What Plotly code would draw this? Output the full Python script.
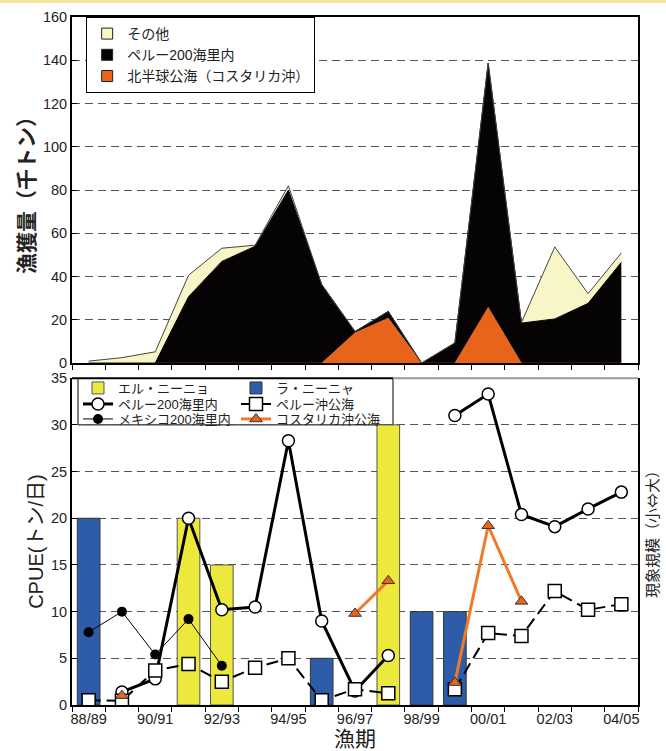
import plotly.graph_objects as go

# ---------------- data ----------------
seasons = ["88/89", "89/90", "90/91", "91/92", "92/93", "93/94", "94/95", "95/96",
           "96/97", "97/98", "98/99", "99/00", "00/01", "01/02", "02/03", "03/04", "04/05"]

# catch (thousand tonnes), stacked: north hemisphere high seas (bottom), Peru 200nm, other (top)
catch_north = [0, 0, 0, 0, 0, 0, 0, 0, 14, 20.8, 0, 0, 25.8, 0, 0, 0, 0]
catch_peru = [0, 0, 0, 30.7, 47, 54, 80, 36.3, 0.6, 3.1, 0, 9.3, 112.9, 18.5, 20.4, 27.6, 46.6]
catch_other = [0.9, 2.5, 5.2, 9.9, 6.1, 0.5, 2, 0, 0, 0, 0, 0, 0, 0.3, 33.3, 4.5, 4.3]

# phenomenon scale bars
elnino = [None, None, None, 20, 15, None, None, None, None, 30, None, None, None, None, None, None, None]
lanina = [20, None, None, None, None, None, None, 5, None, None, 10, 10, None, None, None, None, None]

# CPUE (t/day)
cpue_peru200 = [None, 1.4, 2.8, 20.0, 10.2, 10.5, 28.3, 9.0, 1.5, 5.3, None,
                31.0, 33.3, 20.4, 19.1, 21.0, 22.8]
cpue_peru_hs = [0.5, 0.45, 3.7, 4.4, 2.5, 4.0, 5.0, 0.5, 1.7, 1.25, None,
                1.7, 7.7, 7.4, 12.2, 10.2, 10.8]
cpue_mexico = [7.8, 10.0, 5.4, 9.2, 4.2, None, None, None, None, None, None,
               None, None, None, None, None, None]
cpue_costa = [None, 1.0, None, None, None, None, None, None, 9.8, 13.3, None,
              2.4, 19.2, 11.1, None, None, None]

top_title = "漁獲量（千トン）"
bot_title = "CPUE(トン/日)"
right_title = "現象規模（小⇔大）"
x_title = "漁期"

names_top = ["その他", "ペルー200海里内", "北半球公海（コスタリカ沖）"]
names_bot = ["エル・ニーニョ", "ラ・ニーニャ", "ペルー200海里内", "ペルー沖公海",
             "メキシコ200海里内", "コスタリカ沖公海"]

# ---------------- styles ----------------
FONT = "Liberation Sans, Arial, Noto Sans CJK JP, sans-serif"
CJK = "Noto Sans CJK JP, sans-serif"
C_CREAM = "#F8F6C6"
C_BLACK = "#050303"
C_ORANGE = "#E8641B"
C_YELLOW = "#ECE83C"
C_BLUE = "#2F5CA9"
C_LORANGE = "#F07A2A"

fig = go.Figure()

# legend-only symbols for the top chart
for nm, col in zip(names_top, [C_CREAM, C_BLACK, C_ORANGE]):
    fig.add_trace(go.Scatter(x=[None], y=[None], mode="markers", name=nm,
                             marker=dict(symbol="square", size=11, color=col,
                                         line=dict(color="#222", width=1)),
                             legend="legend", xaxis="x", yaxis="y"))

# stacked areas
fig.add_trace(go.Scatter(x=seasons, y=catch_north, stackgroup="c", mode="lines",
                         line=dict(color=C_ORANGE, width=0.5), fillcolor=C_ORANGE,
                         showlegend=False, xaxis="x", yaxis="y"))
fig.add_trace(go.Scatter(x=seasons, y=catch_peru, stackgroup="c", mode="lines",
                         line=dict(color=C_BLACK, width=1), fillcolor=C_BLACK,
                         showlegend=False, xaxis="x", yaxis="y"))
fig.add_trace(go.Scatter(x=seasons, y=catch_other, stackgroup="c", mode="lines",
                         line=dict(color="#444", width=1), fillcolor=C_CREAM,
                         showlegend=False, xaxis="x", yaxis="y"))

# bottom chart bars  (legend rows: legend2 = row 1, legend3 = row 2, legend4 = row 3)
fig.add_trace(go.Bar(x=seasons, y=elnino, name=names_bot[0], width=0.68,
                     marker=dict(color=C_YELLOW, line=dict(color="#555", width=1)),
                     legend="legend2", xaxis="x2", yaxis="y2"))
fig.add_trace(go.Bar(x=seasons, y=lanina, name=names_bot[1], width=0.68,
                     marker=dict(color=C_BLUE, line=dict(color="#333", width=1)),
                     legend="legend2", xaxis="x2", yaxis="y2"))

# CPUE lines
fig.add_trace(go.Scatter(x=seasons, y=cpue_peru200, name=names_bot[2], mode="lines+markers",
                         line=dict(color="black", width=3),
                         marker=dict(symbol="circle", size=12, color="white",
                                     line=dict(color="black", width=1.5)),
                         legend="legend3", xaxis="x2", yaxis="y2"))
fig.add_trace(go.Scatter(x=seasons, y=cpue_peru_hs, name=names_bot[3], mode="lines+markers",
                         line=dict(color="black", width=2, dash="12px,6px"),
                         marker=dict(symbol="square", size=13, color="white",
                                     line=dict(color="black", width=1.5)),
                         legend="legend3", xaxis="x2", yaxis="y2"))
fig.add_trace(go.Scatter(x=seasons, y=cpue_mexico, name=names_bot[4], mode="lines+markers",
                         line=dict(color="black", width=1),
                         marker=dict(symbol="circle", size=10, color="black"),
                         legend="legend4", xaxis="x2", yaxis="y2"))
fig.add_trace(go.Scatter(x=seasons, y=cpue_costa, name=names_bot[5], mode="lines+markers",
                         line=dict(color=C_LORANGE, width=3),
                         marker=dict(symbol="triangle-up", size=11, color=C_ORANGE,
                                     line=dict(color="#333", width=1)),
                         legend="legend4", xaxis="x2", yaxis="y2"))

tick_font = dict(family=FONT, size=14.5, color="#222")
grid_kw = dict(showgrid=True, gridcolor="#555", griddash="8px,5px", gridwidth=1)

row_legend = dict(orientation="h", x=0.0106, xanchor="left", yanchor="top",
                  entrywidth=113, entrywidthmode="pixels", bgcolor="rgba(0,0,0,0)",
                  borderwidth=0, itemwidth=30, traceorder="normal",
                  font=dict(family=FONT, size=13, color="#222"))

LEG_RIGHT = (393 - 72) / 566  # right edge of the bottom legend box (paper fraction)

fig.update_layout(
    width=666, height=751,
    margin=dict(l=72, r=28, t=17, b=46, autoexpand=False),
    paper_bgcolor="white", plot_bgcolor="white",
    font=dict(family=FONT, color="#222"),
    barmode="overlay",
    xaxis=dict(domain=[0, 1], type="category", categoryorder="array", categoryarray=seasons,
               range=[-0.5, 16.5], tickson="boundaries", ticks="outside", ticklen=5,
               tickcolor="black", showticklabels=False, showgrid=False,
               showline=True, linecolor="black", linewidth=2, mirror=True, anchor="y"),
    yaxis=dict(domain=[0.497, 1], range=[0, 160], dtick=20, ticks="inside", ticklen=5,
               tickcolor="black", tickfont=tick_font, showline=True, linecolor="black",
               linewidth=2, mirror=True, zeroline=False, anchor="x",
               title=dict(text=top_title,
                          font=dict(family=CJK, size=21, color="#222", weight="bold"),
                          standoff=3),
               **grid_kw),
    xaxis2=dict(domain=[0, 1], type="category", categoryorder="array", categoryarray=seasons,
                range=[-0.5, 16.5], tickson="boundaries", ticks="outside", ticklen=5,
                tickcolor="black", tickmode="array", tickvals=seasons,
                ticktext=[s if i % 2 == 0 else "" for i, s in enumerate(seasons)],
                tickangle=0, tickfont=tick_font, showgrid=False, showline=True,
                linecolor="black", linewidth=2, mirror=False, anchor="y2",
                title=dict(text=x_title, font=dict(family=FONT, size=21, color="#222"),
                           standoff=0)),
    yaxis2=dict(domain=[0, 0.475], range=[0, 35], dtick=5, ticks="inside", ticklen=5,
                tickcolor="black", tickfont=tick_font, showline=True, linecolor="black",
                linewidth=2, mirror=True, zeroline=False, anchor="x2",
                title=dict(text=bot_title, font=dict(family=FONT, size=20, color="#222"),
                           standoff=2),
                **grid_kw),
    legend=dict(x=0.025, y=1, xanchor="left", yanchor="top", bgcolor="white",
                bordercolor="black", borderwidth=1, itemwidth=30, tracegroupgap=0,
                traceorder="normal",
                font=dict(family=FONT, size=14, color="#222")),
    legend2=dict(y=(705 - 373) / 688, **row_legend),
    legend3=dict(y=(705 - 389) / 688, **row_legend),
    legend4=dict(y=(705 - 404) / 688, **row_legend),
    annotations=[dict(text=right_title, xref="paper", yref="paper", x=1,
                      y=(705 - 531) / 688, xanchor="center", yanchor="middle", xshift=13,
                      textangle=-90, showarrow=False,
                      font=dict(family=CJK, size=15, color="#222"))],
    shapes=[
        # bottom legend box
        dict(type="rect", xref="paper", yref="y2", x0=(78 - 72) / 566, x1=LEG_RIGHT,
             y0=30, y1=35, fillcolor="white", line=dict(color="black", width=1),
             layer="below"),
        # top frame of the lower panel (grey right of the legend)
        dict(type="line", xref="paper", yref="paper", x0=LEG_RIGHT, x1=1, y0=0.475, y1=0.475,
             line=dict(color="#999", width=2), layer="above"),
        dict(type="line", xref="paper", yref="paper", x0=0, x1=LEG_RIGHT, y0=0.475, y1=0.475,
             line=dict(color="black", width=2), layer="above"),
        # pale yellow rule at the very top of the page
        dict(type="line", xref="paper", yref="paper", x0=-72 / 566, x1=1 + 28 / 566,
             y0=1 + 15.5 / 688, y1=1 + 15.5 / 688, line=dict(color="#F9E7A0", width=3)),
    ],
)

fig.write_html("out.html", config={"displayModeBar": False},
               post_script="document.body.style.margin='0px';")
